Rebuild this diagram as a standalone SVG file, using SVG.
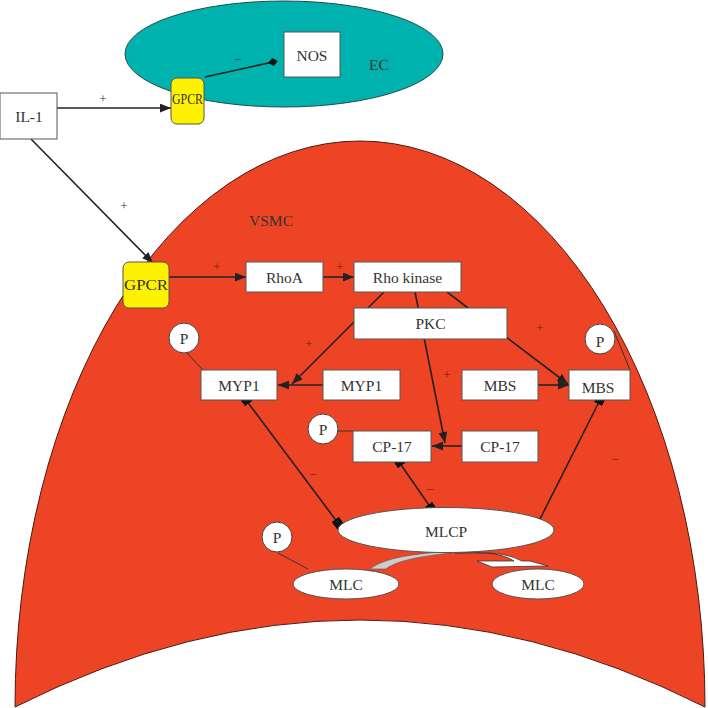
<svg xmlns="http://www.w3.org/2000/svg" width="708" height="708" viewBox="0 0 708 708">
<defs>
<style>
.box{fill:#fff;stroke:#555;stroke-width:1}
.t{font-family:'Liberation Serif','Times New Roman',serif;font-size:15.5px;fill:#333;text-anchor:middle;dominant-baseline:central}
.gp{fill:#fff200;stroke:#555;stroke-width:1}
.gt{font-family:'Liberation Serif','Times New Roman',serif;font-size:14.5px;fill:#333;text-anchor:middle;dominant-baseline:central}
.sg{font-family:'Liberation Serif','Times New Roman',serif;font-size:13px;fill:#7a1a10;text-anchor:middle;dominant-baseline:central}
.sgw{font-family:'Liberation Serif','Times New Roman',serif;font-size:13px;fill:#333;text-anchor:middle;dominant-baseline:central}
.ln{stroke:#222;stroke-width:1.6;fill:none}
.arr{marker-end:url(#ah)}
.inh{marker-start:url(#sq);marker-end:url(#sq)}
.pc{fill:#fff;stroke:#444;stroke-width:1}
.pl{stroke:#333;stroke-width:1;fill:none}
</style>
<marker id="ah" viewBox="0 0 10 8" refX="10" refY="4" markerWidth="11" markerHeight="9" markerUnits="userSpaceOnUse" orient="auto">
<path d="M0,0 L10,4 L0,8 Z" fill="#222"/>
</marker>
<marker id="sq" viewBox="0 0 8 8" refX="4" refY="4" markerWidth="9" markerHeight="9" markerUnits="userSpaceOnUse" orient="auto">
<rect x="0" y="0" width="8" height="8" fill="#111"/>
</marker>
<marker id="dm" viewBox="0 0 10 10" refX="5" refY="5" markerWidth="10" markerHeight="10" markerUnits="userSpaceOnUse" orient="auto">
<path d="M0,5 L5,1 L10,5 L5,9 Z" fill="#111"/>
</marker>
</defs>
<rect width="708" height="708" fill="#fff"/>

<g id="ec">
<ellipse cx="284" cy="54" rx="159" ry="53" fill="#00b2ad" stroke="#1f4f4c" stroke-width="1"/>
<text class="t" x="379" y="64" font-family="Liberation Serif, serif">EC</text>
</g>
<g id="vsmc">
<path d="M15,707 A345,566 0 1 1 705,707 Q360,533 15,707 Z" fill="#ee4426" stroke="#4a1a10" stroke-width="1"/>
<text class="t" x="271" y="220">VSMC</text>
</g>

<g id="connectors">
<line class="ln arr" x1="57" y1="108" x2="171" y2="108"/>
<text class="sgw" x="103" y="98">+</text>
<line class="ln" x1="205" y1="77" x2="273" y2="62" style="marker-end:url(#dm)"/>
<text class="sgw" x="238" y="59">−</text>
<line class="ln arr" x1="31" y1="139" x2="153" y2="263"/>
<text class="sgw" x="124" y="205">+</text>
<line class="ln arr" x1="169" y1="277" x2="246" y2="277"/>
<text class="sg" x="217" y="266">+</text>
<line class="ln arr" x1="323" y1="277" x2="354" y2="277"/>
<text class="sg" x="340" y="266">+</text>
<line class="ln arr" x1="384" y1="292" x2="292" y2="384"/>
<text class="sg" x="309" y="343">+</text>
<line class="ln arr" x1="415" y1="292" x2="445" y2="443"/>
<text class="sg" x="447" y="374">+</text>
<line class="ln arr" x1="447" y1="292" x2="568" y2="384"/>
<text class="sg" x="540" y="327">+</text>
<line class="ln arr" x1="323" y1="385" x2="278" y2="385"/>
<line class="ln arr" x1="538" y1="385" x2="569" y2="385"/>
<line class="ln arr" x1="462" y1="446" x2="432" y2="446"/>
<line class="ln inh" x1="246" y1="400" x2="338" y2="523"/>
<text class="sg" x="313" y="474">−</text>
<line class="ln inh" x1="399" y1="462" x2="431" y2="508"/>
<text class="sg" x="430" y="489">−</text>
<line class="ln inh" x1="600" y1="400" x2="538" y2="523"/>
<text class="sg" x="615" y="459">−</text>
<path d="M370,569 C382,560 402,555 440,552 L452,553 C420,556 396,561 386,569 Z" fill="#cccccc" stroke="#555" stroke-width="0.6"/>
<path d="M455,553 Q498,550 514,561 L477,561 L492,567 L548,566 L530,561 L522,561 Q505,552 480,553 Z" fill="#fff" stroke="#333" stroke-width="0.8"/>
<line class="pl" x1="187" y1="353" x2="203" y2="370"/>
<line class="pl" x1="614" y1="331" x2="630" y2="370"/>
<line class="pl" x1="338" y1="431" x2="353" y2="431"/>
<line class="pl" x1="278" y1="553" x2="308" y2="569"/>
</g>

<g id="nos"><rect class="box" x="284" y="32" width="56" height="45"/><text class="t" x="312" y="55">NOS</text></g>
<g id="il1"><rect class="box" x="0" y="93" width="57" height="46"/><text class="t" x="29" y="116">IL-1</text></g>
<g id="gpcr-ec"><rect class="gp" x="171" y="78" width="33" height="46" rx="6"/><text class="gt" x="187.5" y="99" textLength="31" lengthAdjust="spacingAndGlyphs">GPCR</text></g>
<g id="gpcr-vsmc"><rect class="gp" x="123" y="262" width="46" height="46" rx="6"/><text class="gt" x="146" y="285" textLength="44" lengthAdjust="spacingAndGlyphs">GPCR</text></g>
<g id="rhoa"><rect class="box" x="246" y="262" width="77" height="30"/><text class="t" x="284.5" y="277">RhoA</text></g>
<g id="rhokinase"><rect class="box" x="354" y="262" width="107" height="30"/><text class="t" x="407.5" y="277">Rho kinase</text></g>
<g id="pkc"><rect class="box" x="354" y="308" width="153" height="31"/><text class="t" x="430.5" y="323.5">PKC</text></g>
<g id="myp1-p"><rect class="box" x="201" y="370" width="76" height="30"/><text class="t" x="239" y="385">MYP1</text></g>
<g id="myp1"><rect class="box" x="323" y="370" width="77" height="30"/><text class="t" x="361.5" y="385">MYP1</text></g>
<g id="mbs"><rect class="box" x="462" y="370" width="76" height="30"/><text class="t" x="500" y="385">MBS</text></g>
<g id="mbs-p"><rect class="box" x="569" y="370" width="61" height="30"/><text class="t" x="598" y="387">MBS</text></g>
<g id="cp17-p"><rect class="box" x="353" y="431" width="78" height="31"/><text class="t" x="392" y="446">CP-17</text></g>
<g id="cp17"><rect class="box" x="462" y="431" width="76" height="31"/><text class="t" x="500" y="446">CP-17</text></g>
<g id="mlcp"><ellipse class="box" cx="446" cy="530" rx="108" ry="22.5"/><text class="t" x="446" y="531">MLCP</text></g>
<g id="mlc-p"><ellipse class="box" cx="346" cy="584" rx="53" ry="15"/><text class="t" x="346" y="584">MLC</text></g>
<g id="mlc"><ellipse class="box" cx="538" cy="584" rx="46" ry="15"/><text class="t" x="538" y="584">MLC</text></g>
<g id="p1"><circle class="pc" cx="184" cy="338" r="15"/><text class="t" x="184" y="338">P</text></g>
<g id="p2"><circle class="pc" cx="600" cy="339" r="15"/><text class="t" x="600" y="341">P</text></g>
<g id="p3"><circle class="pc" cx="323" cy="429" r="15"/><text class="t" x="323" y="429">P</text></g>
<g id="p4"><circle class="pc" cx="277" cy="537" r="15"/><text class="t" x="277" y="537">P</text></g>
</svg>
